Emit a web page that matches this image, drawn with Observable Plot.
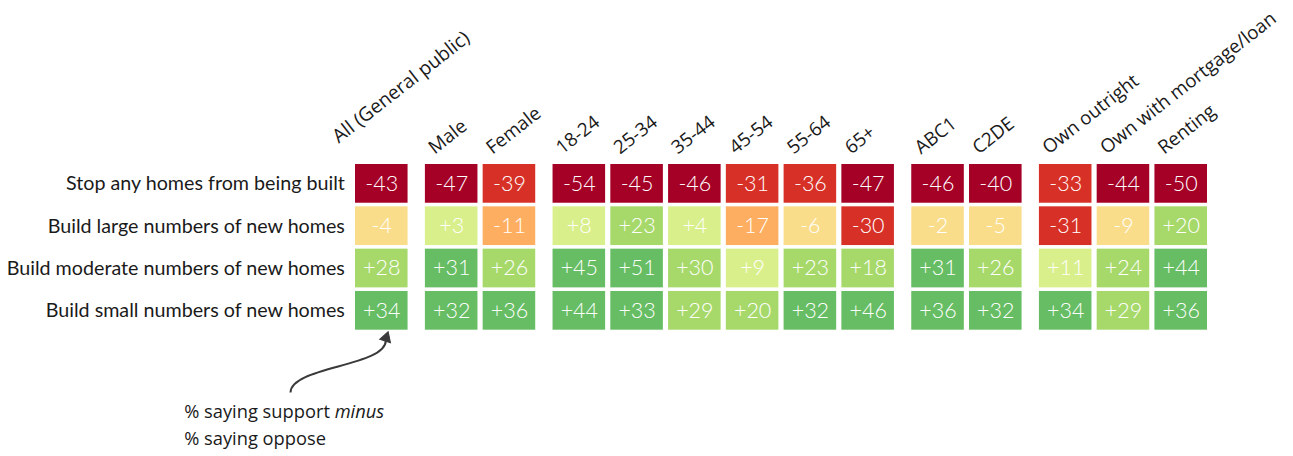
<!DOCTYPE html>
<html>
<head>
<meta charset="utf-8">
<script src="https://cdn.jsdelivr.net/npm/d3@7"></script>
<script src="https://cdn.jsdelivr.net/npm/@observablehq/plot@0.6"></script>
<style>
  html, body { margin: 0; padding: 0; background: #fff; }
  #chart svg { display: block; }
</style>
</head>
<body>
<div id="chart"></div>
<script>
// ---- Data ----
const columns = ["All (General public)", "Male", "Female", "18-24", "25-34", "35-44", "45-54", "55-64", "65+", "ABC1", "C2DE", "Own outright", "Own with mortgage/loan", "Renting"];
const columnGroups = [0, 1, 1, 2, 2, 2, 2, 2, 2, 3, 3, 4, 4, 4];
const rowLabels = ["Stop any homes from being built", "Build large numbers of new homes", "Build moderate numbers of new homes", "Build small numbers of new homes"];
const stopAny  = [-43, -47, -39, -54, -45, -46, -31, -36, -47, -46, -40, -33, -44, -50];
const buildLarge = [-4, 3, -11, 8, 23, 4, -17, -6, -30, -2, -5, -31, -9, 20];
const buildModerate = [28, 31, 26, 45, 51, 30, 9, 23, 18, 31, 26, 11, 24, 44];
const buildSmall = [34, 32, 36, 44, 33, 29, 20, 32, 46, 36, 32, 34, 29, 36];
const series = [stopAny, buildLarge, buildModerate, buildSmall];
const thresholds = [-39.5, -20, -10, 0, 15, 30.5];
const palette = ["#a50026", "#d73027", "#fdae61", "#fadd8b", "#d9ef8b", "#a6d96a", "#66bd63"];
const noteText = "% saying support minus";
const noteText2 = "% saying oppose";

// ---- Build table ----
const groupGap = 0.21;
const xpos = i => i + columnGroups[i] * groupGap;
const cells = [];
series.forEach((vals, r) => vals.forEach((v, c) => cells.push({row: r, col: c, value: v})));
const fmt = v => (v > 0 ? "+" + v : String(v));
const xMax = xpos(columns.length - 1) + 1;

const font = "Lato, 'Open Sans', sans-serif";
const headFont = "'Open Sans', sans-serif";

const chart = Plot.plot({
  width: 1293,
  height: 456,
  marginLeft: 352.4,
  marginRight: 83.4,
  marginTop: 162.2,
  marginBottom: 124.5,
  x: {domain: [0, xMax], axis: null},
  y: {domain: [0, 4], reverse: true, axis: null},
  color: {type: "threshold", domain: thresholds, range: palette},
  marks: [
    Plot.rect(cells, {
      x1: d => xpos(d.col), x2: d => xpos(d.col) + 1,
      y1: d => d.row, y2: d => d.row + 1,
      fill: d => d.value,
      insetLeft: 2.6, insetRight: 2.6, insetTop: 1.8, insetBottom: 1.8
    }),
    Plot.text(cells, {
      x: d => xpos(d.col) + 0.5, y: d => d.row + 0.5,
      text: d => fmt(d.value), fill: "white",
      fontFamily: font, fontSize: 21.5, fontWeight: 300
    }),
    Plot.text(rowLabels, {
      x: 0, y: (d, i) => i + 0.5, text: d => d,
      textAnchor: "end", dx: -8, fill: "#1a1a1a",
      fontFamily: font, fontSize: 19.7
    }),
    // column headers (first one sits differently in the original)
    Plot.text(columns.slice(1), {
      x: (d, i) => xpos(i + 1) + 0.5, y: 0, text: d => d,
      textAnchor: "start", lineAnchor: "bottom", rotate: -38,
      dx: -17, dy: -8, fill: "#1a1a1a",
      fontFamily: headFont, fontSize: 18.8
    }),
    Plot.text(columns.slice(0, 1), {
      x: xpos(0) + 0.5, y: 0, text: d => d,
      textAnchor: "start", lineAnchor: "bottom", rotate: -38,
      dx: -43, dy: -19, fill: "#1a1a1a",
      fontFamily: headFont, fontSize: 19.2
    }),
    // annotation arrow and note
    Plot.link([0], {
      x1: -1.08, y1: 5.43, x2: 0.57, y2: 4.2,
      curve: "bump-y", stroke: "#3a3a3a", strokeWidth: 2
    }),
    Plot.dot([0], {
      x: 0.575, y: 4.14, symbol: "triangle", r: 4.2,
      fill: "#3a3a3a", stroke: "#3a3a3a", strokeWidth: 1, rotate: 18
    }),
    Plot.text([noteText, noteText2], {
      x: -2.92, y: (d, i) => 5.9 + i * 0.62, text: d => d,
      textAnchor: "start", fill: "#1a1a1a",
      fontFamily: headFont, fontSize: 18.3
    })
  ]
});

// italicise "minus" in the note
chart.querySelectorAll("text").forEach(t => {
  if (t.textContent === noteText) {
    const base = noteText.replace(/minus$/, "");
    t.textContent = "";
    const a = document.createElementNS("http://www.w3.org/2000/svg", "tspan");
    a.textContent = base;
    const b = document.createElementNS("http://www.w3.org/2000/svg", "tspan");
    b.textContent = "minus";
    b.setAttribute("font-style", "italic");
    t.appendChild(a); t.appendChild(b);
  }
});
document.getElementById("chart").appendChild(chart);
</script>
</body>
</html>
